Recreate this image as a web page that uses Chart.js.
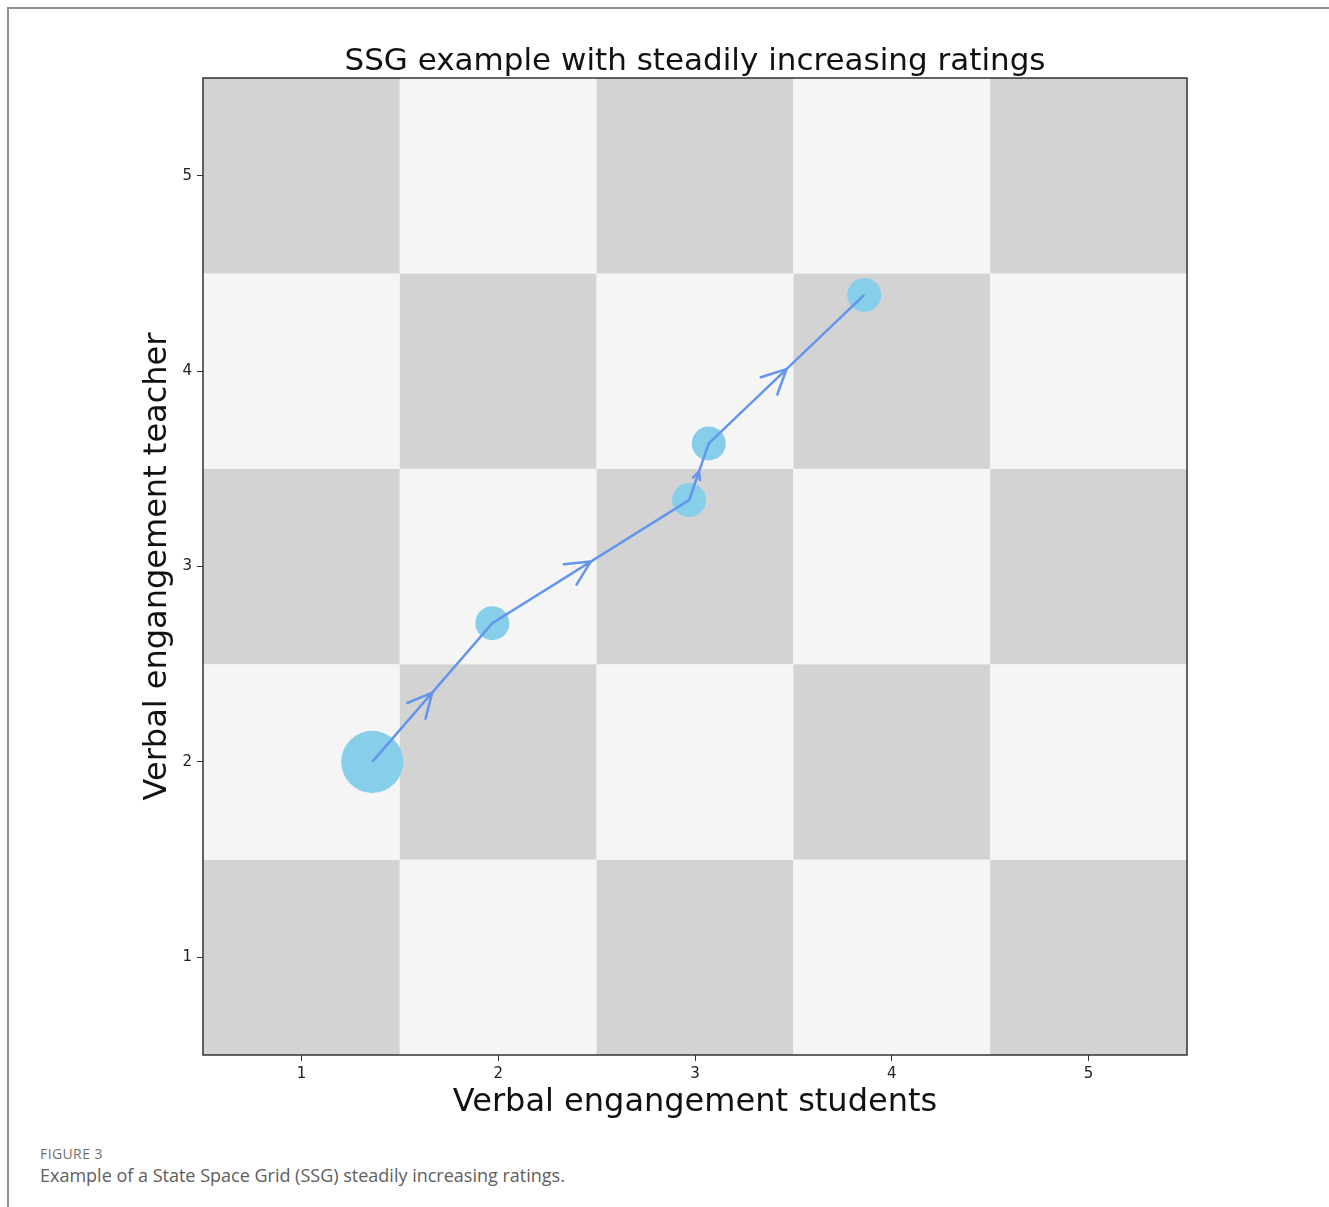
<!DOCTYPE html>
<html>
<head>
<meta charset="utf-8">
<title>SSG example</title>
<script src="https://cdn.jsdelivr.net/npm/chart.js@4.4.1/dist/chart.umd.min.js"></script>
<style>
  body { margin: 0; background: #fff; }
  #page { position: relative; width: 1329px; height: 1207px; overflow: hidden; background: #fff; }
  #frame { position: absolute; left: 7px; top: 7px; right: -10px; bottom: -10px; border-left: 2px solid #8f8f8f; border-top: 2px solid #8f8f8f; }
  #chart { position: absolute; left: 0; top: 0; }
  .cap-label { position: absolute; left: 40px; top: 1144px; font-family: "Open Sans", sans-serif; font-size: 14px; letter-spacing: 0.4px; color: #707070; }
  .cap-text { position: absolute; left: 40px; top: 1163px; font-family: "Open Sans", sans-serif; font-size: 18px; color: #5e5e5e; }
</style>
</head>
<body>
<div id="page">
  <div id="frame"></div>
  <canvas id="chart" width="1329" height="1130"></canvas>
  <div class="cap-label">FIGURE 3</div>
  <div class="cap-text">Example of a State Space Grid (SSG) steadily increasing ratings.</div>
</div>
<script>
// --- data ---
const studentRatings = [1.36, 1.97, 2.97, 3.07, 3.86];   // x
const teacherRatings = [2.00, 2.71, 3.34, 3.63, 4.39];   // y
const durations = [10, 3, 3, 3, 3];                      // relative time spent at each state
const tickValues = [1, 2, 3, 4, 5];
// 1 = dark cell, 0 = light cell; rows from rating 1 (bottom) to 5 (top)
const cellShade = [
  [1, 0, 1, 0, 1],
  [0, 1, 0, 1, 0],
  [1, 0, 1, 0, 1],
  [0, 1, 0, 1, 0],
  [1, 0, 1, 0, 1]
];
const chartTitle = 'SSG example with steadily increasing ratings';

const points = studentRatings.map((x, i) => ({ x: x, y: teacherRatings[i] }));

// checkerboard cells behind the data
const gridPlugin = {
  id: 'ssgGrid',
  beforeDatasetsDraw(chart) {
    const { ctx, scales: { x, y } } = chart;
    ctx.save();
    cellShade.forEach((row, r) => {
      row.forEach((dark, c) => {
        const xv = tickValues[c], yv = tickValues[r];
        const x0 = x.getPixelForValue(xv - 0.5), x1 = x.getPixelForValue(xv + 0.5);
        const y0 = y.getPixelForValue(yv + 0.5), y1 = y.getPixelForValue(yv - 0.5);
        ctx.fillStyle = dark ? '#d3d3d3' : '#f5f5f5';
        ctx.fillRect(x0, y0, x1 - x0, y1 - y0);
      });
    });
    ctx.restore();
  }
};

// open arrow heads at the middle of each step, axes frame, title over the plot
const arrowPlugin = {
  id: 'ssgArrows',
  afterDatasetsDraw(chart) {
    const ctx = chart.ctx;
    const els = chart.getDatasetMeta(0).data;
    ctx.save();
    ctx.strokeStyle = '#6495ed';
    ctx.lineWidth = 2.5;
    ctx.lineCap = 'round';
    for (let i = 0; i < els.length - 1; i++) {
      const a = els[i], b = els[i + 1];
      const dx = b.x - a.x, dy = b.y - a.y;
      const len = Math.hypot(dx, dy);
      const mx = (a.x + b.x) / 2, my = (a.y + b.y) / 2;
      const arm = len > 120 ? 27 : len * 0.14;
      const ang = Math.atan2(dy, dx);
      const spread = 0.46;
      ctx.beginPath();
      ctx.moveTo(mx - arm * Math.cos(ang - spread), my - arm * Math.sin(ang - spread));
      ctx.lineTo(mx, my);
      ctx.lineTo(mx - arm * Math.cos(ang + spread), my - arm * Math.sin(ang + spread));
      ctx.stroke();
    }
    const ca = chart.chartArea;
    ctx.strokeStyle = '#333';
    ctx.lineWidth = 1.5;
    ctx.strokeRect(ca.left, ca.top, ca.right - ca.left, ca.bottom - ca.top);
    ctx.fillStyle = '#111';
    ctx.font = '31px "DejaVu Sans"';
    ctx.textAlign = 'center';
    ctx.textBaseline = 'middle';
    ctx.fillText(chartTitle, (ca.left + ca.right) / 2, ca.top - 16.5);
    ctx.restore();
  }
};

const tickFont = { family: 'DejaVu Sans', size: 15 };
const labelFont = { family: 'DejaVu Sans', size: 32 };

new Chart(document.getElementById('chart'), {
  type: 'scatter',
  data: {
    datasets: [
      {
        label: 'path',
        data: points,
        showLine: true,
        borderColor: '#6495ed',
        borderWidth: 2.5,
        pointRadius: 0,
        order: 0
      },
      {
        label: 'states',
        data: points,
        backgroundColor: '#87ceeb',
        borderWidth: 0,
        pointRadius: ctx => 17 * Math.sqrt(durations[ctx.dataIndex] / 3),
        order: 1
      }
    ]
  },
  options: {
    responsive: false,
    animation: false,
    layout: { padding: { left: 0, right: 142, top: 78, bottom: 5 } },
    plugins: {
      legend: { display: false },
      tooltip: { enabled: false },
      title: { display: false }
    },
    scales: {
      x: {
        type: 'linear',
        min: 0.5,
        max: 5.5,
        afterBuildTicks: s => { s.ticks = tickValues.map(v => ({ value: v })); },
        afterFit: s => { s.height = 70; },
        grid: { drawOnChartArea: false, drawTicks: true, tickLength: 6, color: '#333' },
        border: { display: false },
        ticks: { font: tickFont, color: '#222', padding: 4 },
        title: { display: true, text: 'Verbal engangement students', color: '#111', font: labelFont, padding: { top: 0, bottom: 3 } }
      },
      y: {
        type: 'linear',
        min: 0.5,
        max: 5.5,
        afterBuildTicks: s => { s.ticks = tickValues.map(v => ({ value: v })); },
        afterFit: s => { s.width = 203; },
        grid: { drawOnChartArea: false, drawTicks: true, tickLength: 6, color: '#333' },
        border: { display: false },
        ticks: { font: tickFont, color: '#222', padding: 5 },
        title: { display: true, text: 'Verbal engangement teacher', color: '#111', font: labelFont, padding: { top: 138, bottom: 0 } }
      }
    }
  },
  plugins: [gridPlugin, arrowPlugin]
});
</script>
</body>
</html>
